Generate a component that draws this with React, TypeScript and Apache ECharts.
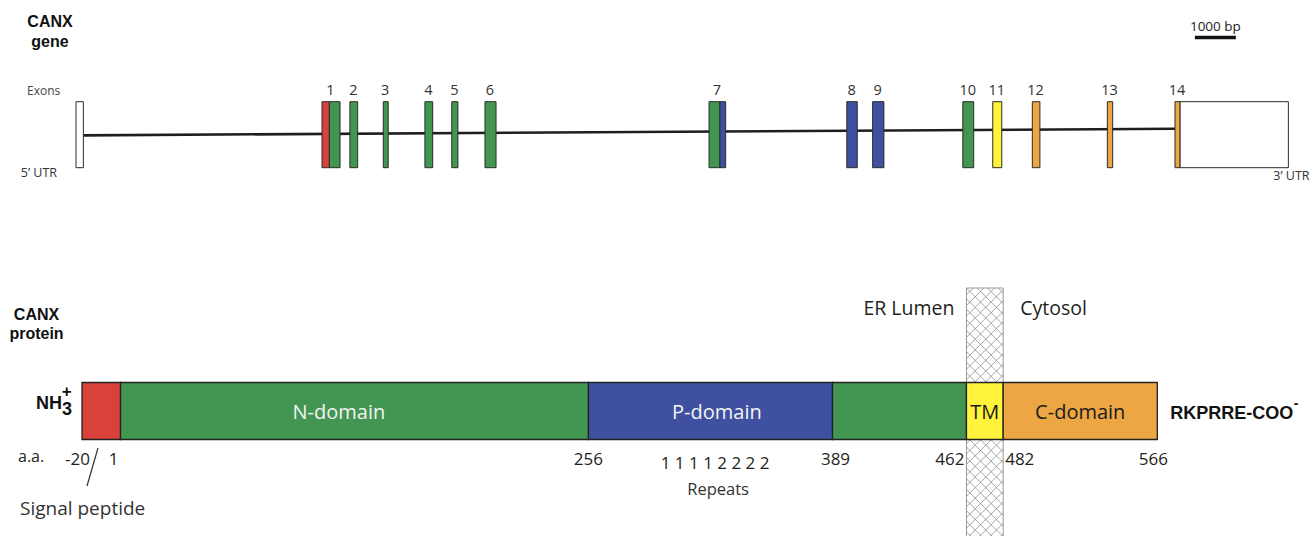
import React, { useEffect, useRef } from 'react';
import * as echarts from 'echarts';

// ---------- Gene (bp from the start of the 5' UTR) ----------
const exonLabels = ['1', '2', '3', '4', '5', '6', '7', '8', '9', '10', '11', '12', '13', '14'];
const exonStart = [6000, 6680, 7495, 8510, 9165, 9975, 15440, 18800, 19430, 21630, 22360, 23325, 25155, 26805];
const exonEnd = [6440, 6870, 7615, 8700, 9315, 10245, 15845, 19055, 19705, 21895, 22580, 23510, 25285, 26925];
// coding segments of the exons, coloured by the protein region they encode
const segStart = [6000, 6180, 6680, 7495, 8510, 9165, 9975, 15440, 15705, 18800, 19430, 21630, 22360, 23325, 25155, 26805];
const segEnd = [6180, 6440, 6870, 7615, 8700, 9315, 10245, 15705, 15845, 19055, 19705, 21895, 22580, 23510, 25285, 26925];
const segKind = ['signal', 'N', 'N', 'N', 'N', 'N', 'N', 'N', 'P', 'P', 'P', 'N', 'TM', 'C', 'C', 'C'];
const utrStart = [0, 26925];
const utrEnd = [180, 29570];
const utrLabels = ['5\u2019 UTR', '3\u2019 UTR'];
const scaleBar = [27290, 28290];
const scaleBarLabel = '1000 bp';

// ---------- Protein (amino acids) ----------
const domainStart = [-20, 1, 256, 389, 462, 482];
const domainEnd = [1, 256, 389, 462, 482, 566];
const domainKind = ['signal', 'N', 'P', 'N', 'TM', 'C'];
const domainLabel = ['', 'N-domain', 'P-domain', '', 'TM', 'C-domain'];
const domainLabelAt = [0, 120, 326, 0, 472, 524];
const aaTicks = [-20, 1, 256, 389, 462, 482, 566];
const membraneSpan = [462, 482];
const repeatNumbers = ['1', '1', '1', '1', '2', '2', '2', '2'];
const repeatsAt = 325;

// ---------- styles / layout ----------
const kindColor: Record<string, string> = {
  signal: '#d9413b',
  N: '#439651',
  P: '#3f50a0',
  TM: '#fff33b',
  C: '#eca644',
};
const domainTextColor: Record<string, string> = { N: '#f4f4f4', P: '#f4f4f4', TM: '#1a1a1a', C: '#1a1a1a', signal: '#fff' };
const tickAlign = ['right', 'right', 'center', 'center', 'right', 'left', 'center'];
const tickDx = [8, -2, 0, 3, -2, 2, -4];

const SANS = '"Open Sans", "Noto Sans", sans-serif';
const ARIAL = '"Liberation Sans", Arial, sans-serif';
const INK = '#231f20';

const GENE_LEFT = 76;
const GENE_TOP = 101.7;
const GENE_H = 66;
const GENE_MAX = 30000;
const GENE_W = GENE_MAX * 0.041;

const PROT_LEFT = 82;
const PROT_TOP = 382.5;
const PROT_H = 57;
const AA_MIN = -20;
const AA_MAX = 566;
const PROT_W = (AA_MAX - AA_MIN) * 1.835;

function measure(text: string, font: string): number {
  const c = document.createElement('canvas');
  const ctx = c.getContext('2d');
  if (!ctx) return text.length * 10;
  ctx.font = font;
  return ctx.measureText(text).width;
}

function txt(text: string, x: number, y: number, opts: any = {}) {
  return {
    type: 'text',
    style: {
      text,
      x,
      y,
      fill: opts.fill || INK,
      fontSize: opts.fontSize || 16,
      fontFamily: opts.fontFamily || SANS,
      fontWeight: opts.fontWeight || 'normal',
      align: opts.align || 'center',
      verticalAlign: 'middle',
    },
  };
}

function buildOption() {
  const tailFontMain = `bold 18px ${ARIAL}`;
  const tailMainWidth = measure('RKPRRE-COO', tailFontMain);

  return {
    animation: false,
    backgroundColor: '#ffffff',
    grid: [
      { left: GENE_LEFT, top: GENE_TOP, width: GENE_W, height: GENE_H },
      { left: PROT_LEFT, top: PROT_TOP, width: PROT_W, height: PROT_H },
    ],
    xAxis: [
      { gridIndex: 0, type: 'value', min: 0, max: GENE_MAX, show: false, splitLine: { show: false } },
      { gridIndex: 1, type: 'value', min: AA_MIN, max: AA_MAX, show: false, splitLine: { show: false } },
    ],
    yAxis: [
      { gridIndex: 0, type: 'value', min: 0, max: 1, show: false, splitLine: { show: false } },
      { gridIndex: 1, type: 'value', min: 0, max: 1, show: false, splitLine: { show: false } },
    ],
    graphic: [
      txt('CANX', 50, 21, { fontSize: 16, fontWeight: 'bold', fontFamily: ARIAL, fill: '#111' }),
      txt('gene', 50, 41, { fontSize: 16, fontWeight: 'bold', fontFamily: ARIAL, fill: '#111' }),
      txt('Exons', 27, 90, { fontSize: 12, align: 'left', fill: '#444' }),
      txt('CANX', 36.5, 314.5, { fontSize: 16, fontWeight: 'bold', fontFamily: ARIAL, fill: '#111' }),
      txt('protein', 36.5, 333.5, { fontSize: 16, fontWeight: 'bold', fontFamily: ARIAL, fill: '#111' }),
      txt('NH', 62, 403, { fontSize: 18, fontWeight: 'bold', fontFamily: ARIAL, fill: '#111', align: 'right' }),
      txt('3', 62, 408.7, { fontSize: 18, fontWeight: 'bold', fontFamily: ARIAL, fill: '#111', align: 'left' }),
      txt('+', 66.7, 391, { fontSize: 17, fontWeight: 'bold', fontFamily: ARIAL, fill: '#111' }),
      txt('a.a.', 18, 456, { fontSize: 16, align: 'left' }),
      txt('Signal peptide', 20, 508, { fontSize: 19, align: 'left', fill: '#333' }),
    ],
    series: [
      // intron backbone
      {
        type: 'line',
        xAxisIndex: 0,
        yAxisIndex: 0,
        data: [
          [utrEnd[0], 0.49],
          [exonStart[exonStart.length - 1], 0.59],
        ],
        showSymbol: false,
        symbol: 'none',
        silent: true,
        lineStyle: { color: '#1e1e1e', width: 2.6 },
        z: 1,
      },
      // UTR boxes
      {
        type: 'custom',
        xAxisIndex: 0,
        yAxisIndex: 0,
        silent: true,
        z: 3,
        data: utrStart.map((s, i) => [s, utrEnd[i]]),
        encode: { x: [0, 1] },
        renderItem: (params: any, api: any) => {
          const i = params.dataIndex;
          const p0 = api.coord([api.value(0), 1]);
          const p1 = api.coord([api.value(1), 0]);
          const children: any[] = [
            {
              type: 'rect',
              shape: { x: p0[0], y: p0[1], width: p1[0] - p0[0], height: p1[1] - p0[1] },
              style: { fill: '#ffffff', stroke: '#2b2b2b', lineWidth: 1 },
            },
          ];
          if (i === 0) {
            children.push(txt(utrLabels[i], p0[0] - 19, p1[1] + 4.5, { fontSize: 12.5, align: 'right', fill: '#333' }));
          } else {
            children.push(txt(utrLabels[i], p1[0] - 15, p1[1] + 7.5, { fontSize: 12.5, align: 'left', fill: '#333' }));
          }
          return { type: 'group', children };
        },
      },
      // exon segments
      {
        type: 'custom',
        xAxisIndex: 0,
        yAxisIndex: 0,
        silent: true,
        z: 4,
        data: segStart.map((s, i) => [s, segEnd[i]]),
        encode: { x: [0, 1] },
        renderItem: (params: any, api: any) => {
          const i = params.dataIndex;
          const p0 = api.coord([api.value(0), 1]);
          const p1 = api.coord([api.value(1), 0]);
          return {
            type: 'rect',
            shape: { x: p0[0], y: p0[1], width: p1[0] - p0[0], height: p1[1] - p0[1] },
            style: { fill: kindColor[segKind[i]], stroke: '#2b2b2b', lineWidth: 1 },
          };
        },
      },
      // exon numbers
      {
        type: 'custom',
        xAxisIndex: 0,
        yAxisIndex: 0,
        silent: true,
        z: 5,
        data: exonStart.map((s, i) => [s, exonEnd[i]]),
        encode: { x: [0, 1] },
        renderItem: (params: any, api: any) => {
          const i = params.dataIndex;
          const p0 = api.coord([(api.value(0) + api.value(1)) / 2, 1]);
          return txt(exonLabels[i], p0[0] - 0.5, p0[1] - 12, { fontSize: 14.5, fill: '#333' });
        },
      },
      // scale bar
      {
        type: 'custom',
        xAxisIndex: 0,
        yAxisIndex: 0,
        silent: true,
        z: 5,
        data: [[scaleBar[0], scaleBar[1]]],
        encode: { x: [0, 1] },
        renderItem: (params: any, api: any) => {
          const a = api.coord([api.value(0), 0]);
          const b = api.coord([api.value(1), 0]);
          return {
            type: 'group',
            children: [
              { type: 'line', shape: { x1: a[0], y1: 37.5, x2: b[0], y2: 37.5 }, style: { stroke: '#111', lineWidth: 3.5 } },
              txt(scaleBarLabel, (a[0] + b[0]) / 2, 26, { fontSize: 13.5, fill: '#222' }),
            ],
          };
        },
      },
      // membrane (hatched) + compartment labels
      {
        type: 'custom',
        xAxisIndex: 1,
        yAxisIndex: 1,
        silent: true,
        z: 2,
        data: [[membraneSpan[0], membraneSpan[1]]],
        encode: { x: [0, 1] },
        renderItem: (params: any, api: any) => {
          const a = api.coord([api.value(0), 0]);
          const b = api.coord([api.value(1), 0]);
          const x0 = a[0];
          const x1 = b[0];
          const y0 = 288;
          const y1 = 540;
          const d = 10.6;
          const children: any[] = [
            {
              type: 'rect',
              shape: { x: x0, y: y0, width: x1 - x0, height: y1 - y0 },
              style: { fill: '#ffffff', stroke: '#9a9a9a', lineWidth: 1 },
            },
          ];
          const hatch = { stroke: '#8e8e8e', lineWidth: 0.8 };
          // lines x - y = k
          for (let k = Math.floor((x0 - y1) / d) * d; k <= x1 - y0; k += d) {
            const ya = Math.max(y0, x0 - k);
            const yb = Math.min(y1, x1 - k);
            if (yb > ya) children.push({ type: 'line', shape: { x1: k + ya, y1: ya, x2: k + yb, y2: yb }, style: hatch });
          }
          // lines x + y = k
          for (let k = Math.floor((x0 + y0) / d) * d; k <= x1 + y1; k += d) {
            const ya = Math.max(y0, k - x1);
            const yb = Math.min(y1, k - x0);
            if (yb > ya) children.push({ type: 'line', shape: { x1: k - ya, y1: ya, x2: k - yb, y2: yb }, style: hatch });
          }
          children.push(txt('ER Lumen', x0 - 12, 307, { fontSize: 19.5, align: 'right' }));
          children.push(txt('Cytosol', x1 + 17, 307, { fontSize: 19.5, align: 'left' }));
          return { type: 'group', children };
        },
      },
      // protein domains
      {
        type: 'custom',
        xAxisIndex: 1,
        yAxisIndex: 1,
        silent: true,
        z: 4,
        data: domainStart.map((s, i) => [s, domainEnd[i]]),
        encode: { x: [0, 1] },
        renderItem: (params: any, api: any) => {
          const i = params.dataIndex;
          const p0 = api.coord([api.value(0), 1]);
          const p1 = api.coord([api.value(1), 0]);
          const children: any[] = [
            {
              type: 'rect',
              shape: { x: p0[0], y: p0[1], width: p1[0] - p0[0], height: p1[1] - p0[1] },
              style: { fill: kindColor[domainKind[i]], stroke: '#222', lineWidth: 1.3 },
            },
          ];
          if (domainLabel[i]) {
            const c = api.coord([domainLabelAt[i], 0.5]);
            children.push(txt(domainLabel[i], c[0], c[1], { fontSize: 20, fill: domainTextColor[domainKind[i]] }));
          }
          if (i === domainStart.length - 1) {
            const lx = p1[0] + 13;
            children.push(txt('RKPRRE-COO', lx, 412.5, { fontSize: 18, fontWeight: 'bold', fontFamily: ARIAL, align: 'left', fill: '#111' }));
            children.push(txt('-', lx + tailMainWidth + 0.5, 403, { fontSize: 14, fontWeight: 'bold', fontFamily: ARIAL, align: 'left', fill: '#111' }));
          }
          return { type: 'group', children };
        },
      },
      // amino-acid tick labels, repeats, signal-peptide slash
      {
        type: 'custom',
        xAxisIndex: 1,
        yAxisIndex: 1,
        silent: true,
        z: 5,
        data: aaTicks.map((v) => [v, 0]),
        encode: { x: 0 },
        renderItem: (params: any, api: any) => {
          const i = params.dataIndex;
          const p = api.coord([api.value(0), 0]);
          const children: any[] = [
            txt(String(aaTicks[i]), p[0] + tickDx[i], 458, { fontSize: 17, align: tickAlign[i] }),
          ];
          if (i === 0) {
            children.push({
              type: 'line',
              shape: { x1: p[0] + 16, y1: 448, x2: p[0] + 5, y2: 486 },
              style: { stroke: '#333', lineWidth: 1.2 },
            });
            const r = api.coord([repeatsAt, 0]);
            children.push(txt(repeatNumbers.join(' '), r[0], 462.5, { fontSize: 17 }));
            children.push(txt('Repeats', r[0] + 3, 488.5, { fontSize: 16.5, fill: '#333' }));
          }
          return { type: 'group', children };
        },
      },
    ],
  };
}

export default function App() {
  const ref = useRef<HTMLDivElement>(null);
  useEffect(() => {
    document.body.style.margin = '0';
    if (!ref.current) return;
    const chart = echarts.init(ref.current, null, { renderer: 'svg' });
    chart.setOption(buildOption() as any);
    return () => {
      chart.dispose();
    };
  }, []);
  return <div ref={ref} style={{ width: 1314, height: 536 }} />;
}
